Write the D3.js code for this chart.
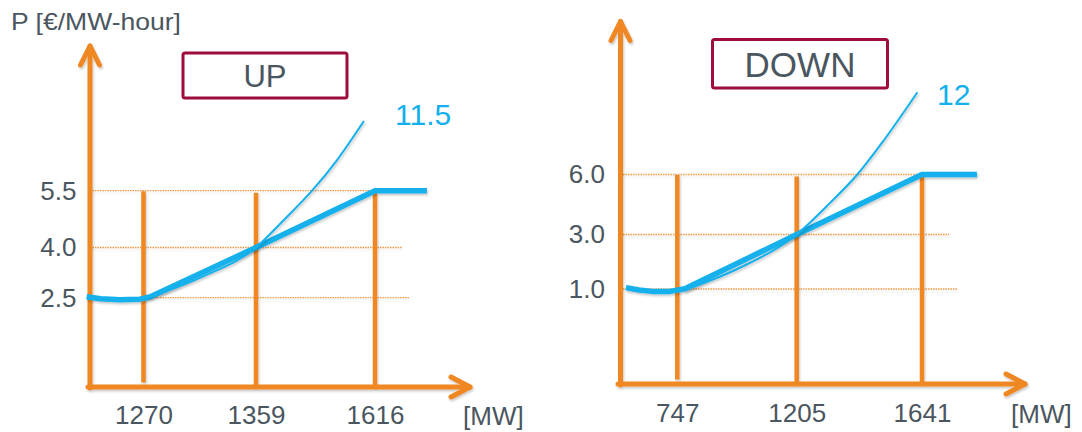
<!DOCTYPE html>
<html>
<head>
<meta charset="utf-8">
<script src="https://cdn.jsdelivr.net/npm/d3@7"></script>
<style>
  html, body { margin: 0; padding: 0; background: #ffffff; }
  svg { display: block; font-family: "Liberation Sans", Arial, sans-serif; }
</style>
</head>
<body>
<svg id="chart" width="1082" height="432"></svg>
<script>
// ---- UP regulation ----
const upCapacityMW   = [1270, 1359, 1616];
const upPriceTicks   = [2.5, 4.0, 5.5];
const upOfferMW      = [1225, 1236, 1251, 1267, 1275, 1359, 1616, 1728];
const upOfferPrice   = [2.53, 2.47, 2.44, 2.46, 2.52, 4.0, 5.5, 5.5];
const upQuadMW       = [1272, 1315, 1359, 1417, 1480, 1534, 1592];
const upQuadPrice    = [2.48, 3.10, 4.0, 4.70, 5.5, 8.14, 11.5];

// ---- DOWN regulation ----
const downCapacityMW = [747, 1205, 1641];
const downPriceTicks = [1.0, 3.0, 6.0];
const downOfferMW    = [550, 600, 650, 719, 776, 1205, 1641, 1832];
const downOfferPrice = [1.05, 0.99, 0.975, 0.975, 1.01, 3.0, 6.0, 6.0];
const downQuadMW     = [776, 987, 1205, 1321, 1416, 1509, 1625];
const downQuadPrice  = [0.99, 1.78, 3.0, 4.58, 6.0, 8.52, 12];

const yAxisTitle = "P [€/MW-hour]";
const xAxisUnit  = "[MW]";

const ORANGE = "#ef8722";
const GRID   = "#ef9a48";
const BLUE   = "#12b0ec";
const TEXT   = "#4a5660";
const FRAME  = "#9e0b3f";

const panels = [
  {
    title: "UP", titleSize: 31, titleCenter: [265, 76],
    capacity: upCapacityMW, ticks: upPriceTicks,
    offerMW: upOfferMW, offerPrice: upOfferPrice,
    quadMW: upQuadMW, quadPrice: upQuadPrice,
    xRange: [143.5, 256, 375], yRange: [387, 297.7, 247.5, 190.7, 121],
    axisX: 90, axisTop: 46, xStart: 88, xEnd: 470,
    gridEnd: [409, 402, 427], yPad: 13.5, xPad: 19,
    box: { x: 183, y: 53, w: 164, h: 45 },
    peakAt: [395, 125], unitAt: [463, 425]
  },
  {
    title: "DOWN", titleSize: 35, titleCenter: [800, 64.5],
    capacity: downCapacityMW, ticks: downPriceTicks,
    offerMW: downOfferMW, offerPrice: downOfferPrice,
    quadMW: downQuadMW, quadPrice: downQuadPrice,
    xRange: [677.3, 796.7, 922], yRange: [384, 289, 234.5, 174.5, 92.3],
    axisX: 620.5, axisTop: 21.5, xStart: 618, xEnd: 1025,
    gridEnd: [957, 949, 977], yPad: 15.5, xPad: 19.5,
    box: { x: 712.5, y: 39.5, w: 175, h: 48.5 },
    peakAt: [937, 105], unitAt: [1011, 422.5]
  }
];

const svg = d3.select("#chart");

// soft drop shadows; user-space region so straight lines keep them
const defs = svg.append("defs");
defs.append("filter").attr("id", "shadow")
  .attr("filterUnits", "userSpaceOnUse")
  .attr("x", 0).attr("y", 0).attr("width", 1082).attr("height", 432)
  .append("feDropShadow")
  .attr("dx", 1).attr("dy", 1.8).attr("stdDeviation", 1.2)
  .attr("flood-color", "#000").attr("flood-opacity", 0.22);
defs.append("filter").attr("id", "haze")
  .attr("filterUnits", "userSpaceOnUse")
  .attr("x", 0).attr("y", 0).attr("width", 1082).attr("height", 432)
  .append("feDropShadow")
  .attr("dx", 0.5).attr("dy", 2).attr("stdDeviation", 1.5)
  .attr("flood-color", "#000").attr("flood-opacity", 0.12);

// y-axis title
svg.append("text")
  .attr("x", 11).attr("y", 29.5)
  .attr("font-size", 24).attr("fill", TEXT)
  .attr("textLength", 170).attr("lengthAdjust", "spacingAndGlyphs")
  .text(yAxisTitle);

panels.forEach(p => {
  const peak = p.quadPrice[p.quadPrice.length - 1];
  const x = d3.scaleLinear().domain(p.capacity).range(p.xRange);
  const y = d3.scaleLinear().domain([0, ...p.ticks, peak]).range(p.yRange);
  const g = svg.append("g");
  const y0 = y(0);
  const yTop = y(d3.max(p.ticks));

  // dotted price levels
  g.selectAll("line.level").data(p.ticks).join("line")
    .attr("class", "level")
    .attr("x1", p.axisX).attr("x2", (d, i) => p.gridEnd[i])
    .attr("y1", d => y(d)).attr("y2", d => y(d))
    .attr("stroke", GRID).attr("stroke-width", 1.3)
    .attr("stroke-dasharray", "1.5,1")
    .attr("filter", "url(#haze)");

  // capacity markers
  g.selectAll("line.cap").data(p.capacity).join("line")
    .attr("class", "cap")
    .attr("x1", d => x(d)).attr("x2", d => x(d))
    .attr("y1", (d, i) => yTop + (i === 0 ? 0.5 : 2))
    .attr("y2", (d, i) => i === 0 ? y0 - 4.5 : y0)
    .attr("stroke", ORANGE).attr("stroke-width", 4.5)
    .attr("filter", "url(#shadow)");

  // axes with arrow heads
  const axes = g.append("g")
    .attr("fill", "none").attr("stroke", ORANGE).attr("stroke-width", 5)
    .attr("stroke-linecap", "round").attr("stroke-linejoin", "round")
    .attr("filter", "url(#shadow)");
  axes.append("path")
    .attr("d", `M${p.axisX},${y0 + 1}V${p.axisTop}M${p.xStart},${y0}H${p.xEnd}`);
  axes.append("path")
    .attr("d", `M${p.axisX - 9.5},${p.axisTop + 19}L${p.axisX},${p.axisTop}L${p.axisX + 9.5},${p.axisTop + 19}`);
  axes.append("path")
    .attr("d", `M${p.xEnd - 19},${y0 - 10}L${p.xEnd},${y0}L${p.xEnd - 19},${y0 + 10}`);

  // stepwise offer curve (thick) and quadratic cost curve (thin)
  const offer = d3.zip(p.offerMW, p.offerPrice);
  const quad = d3.zip(p.quadMW, p.quadPrice);
  g.append("path")
    .datum(offer)
    .attr("d", d3.line().x(d => x(d[0])).y(d => y(d[1])).curve(d3.curveLinear))
    .attr("fill", "none").attr("stroke", BLUE).attr("stroke-width", 5.5)
    .attr("stroke-linejoin", "round")
    .attr("filter", "url(#shadow)");
  g.append("path")
    .datum(quad)
    .attr("d", d3.line().x(d => x(d[0])).y(d => y(d[1])).curve(d3.curveMonotoneX))
    .attr("fill", "none").attr("stroke", BLUE).attr("stroke-width", 2)
    .attr("filter", "url(#shadow)");

  // tick labels
  const yAx = g.append("g")
    .attr("transform", `translate(${p.axisX},0)`)
    .call(d3.axisLeft(y).tickValues(p.ticks).tickFormat(d3.format(".1f")).tickSize(0).tickPadding(p.yPad));
  const xAx = g.append("g")
    .attr("transform", `translate(0,${y0})`)
    .call(d3.axisBottom(x).tickValues(p.capacity).tickFormat(d3.format("d")).tickSize(0).tickPadding(p.xPad));
  [yAx, xAx].forEach(a => {
    a.select(".domain").remove();
    a.selectAll("text")
      .attr("fill", TEXT).attr("font-size", 26)
      .attr("font-family", "Liberation Sans, Arial, sans-serif");
  });

  // unit label
  g.append("text")
    .attr("x", p.unitAt[0]).attr("y", p.unitAt[1])
    .attr("font-size", 26).attr("fill", TEXT)
    .text(xAxisUnit);

  // peak price label
  g.append("text")
    .attr("x", p.peakAt[0]).attr("y", p.peakAt[1])
    .attr("font-size", 30).attr("fill", BLUE)
    .text(String(peak));

  // title box
  g.append("rect")
    .attr("x", p.box.x).attr("y", p.box.y)
    .attr("width", p.box.w).attr("height", p.box.h)
    .attr("rx", 2)
    .attr("fill", "#fff").attr("stroke", FRAME).attr("stroke-width", 3);
  g.append("text")
    .attr("x", p.titleCenter[0]).attr("y", p.titleCenter[1])
    .attr("text-anchor", "middle").attr("dominant-baseline", "central")
    .attr("font-size", p.titleSize).attr("fill", TEXT)
    .text(p.title);
});
</script>
</body>
</html>
